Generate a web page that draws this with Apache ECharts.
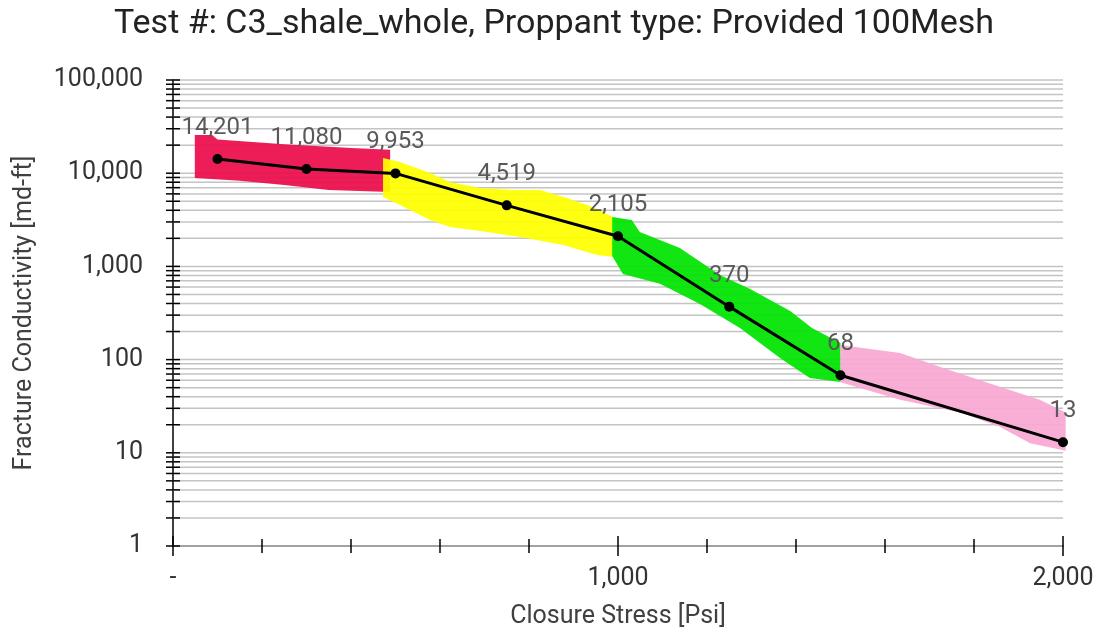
<!DOCTYPE html>
<html><head><meta charset="utf-8">
<script src="https://cdn.jsdelivr.net/npm/echarts@6/dist/echarts.min.js"></script>
<style>html,body{margin:0;padding:0;background:#fff}#c{width:1108px;height:640px}</style>
</head><body><div id="c"></div>
<script>
const titleText = 'Test #: C3_shale_whole, Proppant type: Provided 100Mesh';
const xName = 'Closure Stress [Psi]';
const yName = 'Fracture Conductivity [md-ft]';

const stress = [100, 300, 500, 750, 1000, 1250, 1500, 2000];
const conductivity = [14201, 11080, 9953, 4519, 2105, 370, 68, 13];

const xTickValues = [0, 200, 400, 600, 800, 1000, 1200, 1400, 1600, 1800, 2000];
const xMajorTicks = [0, 1000, 2000];
const yDecades = [1, 10, 100, 1000, 10000, 100000];
const yMinorMultipliers = [2, 3, 4, 5, 6, 7, 8, 9];

// painted highlight bands: [stress, conductivity] along upper and lower edges
const redUpper = [[49, 25700], [88, 25700], [100, 23000], [250, 20500], [400, 18600], [488, 17800]];
const redLower = [[49, 8900], [150, 8300], [250, 7470], [350, 6600], [488, 6290]];
const yellowUpper = [[472, 14560], [510, 13190], [578, 10050], [622, 8050], [690, 6940], [764, 6600], [825, 6600], [885, 5420], [944, 4340], [989, 3390]];
const yellowLower = [[472, 5560], [510, 4560], [578, 3150], [622, 2650], [690, 2400], [780, 2070], [877, 1700], [953, 1325], [989, 1262]];
const greenUpper = [[987, 3390], [1031, 3150], [1049, 2340], [1139, 1575], [1229, 809], [1297, 572], [1387, 332], [1436, 218], [1500, 151]];
const greenLower = [[987, 1290], [1011, 830], [1094, 650], [1184, 395], [1274, 218], [1364, 104], [1431, 63.5], [1500, 57.5]];
const pinkUpper = [[1500, 143], [1634, 118], [1746, 77], [1858, 51], [1948, 37], [2006, 27]];
const pinkLower = [[1500, 57], [1634, 37], [1769, 27], [1858, 19], [1926, 12.7], [2006, 10.5]];

const FONT = 'Roboto';
const fmt = v => Number(v).toLocaleString('en-US');

const yGridValues = [];
yDecades.forEach(d => {
  yGridValues.push(d);
  if (d < 100000) yMinorMultipliers.forEach(m => yGridValues.push(d * m));
});

function bandSeries(upper, lower, color) {
  return {
    type: 'custom', z: 2, silent: true,
    data: [upper[0]],
    renderItem: function (params, api) {
      const pts = upper.map(p => api.coord(p)).concat(lower.slice().reverse().map(p => api.coord(p)));
      return { type: 'polygon', shape: { points: pts }, style: { fill: color, opacity: 0.93 } };
    }
  };
}

const chart = echarts.init(document.getElementById('c'), null, { renderer: 'canvas' });
chart.setOption({
  animation: false,
  backgroundColor: '#fff',
  title: {
    text: titleText, left: 'center', top: 2,
    textStyle: { fontFamily: FONT, fontSize: 34, fontWeight: 'normal', color: '#222' }
  },
  grid: { left: 173, right: 45, top: 80, bottom: 94, containLabel: false },
  xAxis: {
    type: 'value', min: 0, max: 2000, interval: 1000,
    name: xName, nameLocation: 'middle', nameGap: 58,
    nameTextStyle: { fontFamily: FONT, fontSize: 25, color: '#404040' },
    axisLine: { lineStyle: { color: '#000', width: 1.5 } },
    axisTick: { show: false },
    splitLine: { show: false },
    axisLabel: { fontFamily: FONT, fontSize: 25, color: '#333', margin: 20,
      formatter: v => v === 0 ? '-' : fmt(v) }
  },
  yAxis: {
    type: 'log', logBase: 10, min: 1, max: 100000,
    name: yName, nameLocation: 'middle', nameGap: 136,
    nameTextStyle: { fontFamily: FONT, fontSize: 25, color: '#404040' },
    axisLine: { lineStyle: { color: '#000', width: 1.5 } },
    axisTick: { show: false },
    splitLine: { show: false },
    minorTick: { show: false },
    axisLabel: { fontFamily: FONT, fontSize: 25, color: '#333', margin: 30, formatter: v => fmt(v) }
  },
  series: [
    {
      type: 'custom', z: 1, silent: true,
      data: yGridValues.map(v => [0, v]),
      renderItem: function (params, api) {
        const v = api.value(1);
        const a = api.coord([0, v]);
        const b = api.coord([2000, v]);
        return {
          type: 'group', children: [
            { type: 'line', shape: { x1: a[0], y1: a[1], x2: b[0], y2: b[1] }, style: { stroke: '#c4c4c4', lineWidth: 1.5 } },
            { type: 'line', z2: 10, shape: { x1: a[0] - 7, y1: a[1], x2: a[0] + 7, y2: a[1] }, style: { stroke: '#000', lineWidth: 1.5 } }
          ]
        };
      }
    },
    {
      type: 'custom', z: 5, silent: true,
      data: xTickValues.map(v => [v, 1]),
      renderItem: function (params, api) {
        const x = api.value(0);
        const p = api.coord([x, 1]);
        const h = xMajorTicks.indexOf(x) >= 0 ? 10 : 7;
        return { type: 'line', shape: { x1: p[0], y1: p[1] - h, x2: p[0], y2: p[1] + h }, style: { stroke: '#000', lineWidth: 1.5 } };
      }
    },
    bandSeries(redUpper, redLower, '#ec0c4a'),
    bandSeries(yellowUpper, yellowLower, '#ffff00'),
    bandSeries(greenUpper, greenLower, '#00e400'),
    bandSeries(pinkUpper, pinkLower, '#f9a8d2'),
    {
      type: 'line', z: 10,
      data: stress.map((x, i) => [x, conductivity[i]]),
      lineStyle: { color: '#000', width: 3 },
      itemStyle: { color: '#000' },
      symbol: 'circle', symbolSize: 10,
      label: {
        show: true, position: 'top', distance: 14,
        fontFamily: FONT, fontSize: 24, color: '#595959',
        formatter: p => fmt(p.value[1])
      }
    }
  ]
});
</script></body></html>
